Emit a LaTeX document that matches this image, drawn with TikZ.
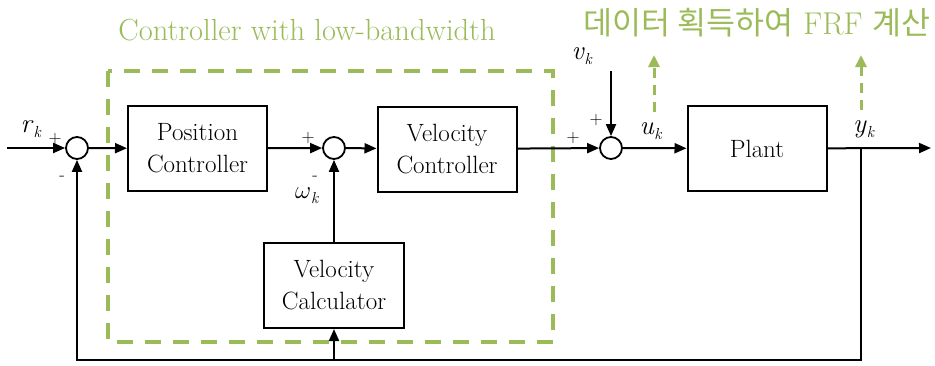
\documentclass[tikz,border=0pt]{standalone}
\usepackage{fontspec}
\newfontfamily\krfont{Noto Sans CJK KR}
\usetikzlibrary{arrows.meta}
\definecolor{grn}{HTML}{9BBB59}
\newcommand\lbl[2]{#1\raisebox{-0.45ex}{\fontsize{16}{16}\selectfont\textit{#2}}}
\begin{document}
\begin{tikzpicture}[x=1pt,y=-1pt,
  blk/.style={draw,line width=2pt,minimum width=139pt,minimum height=85pt,align=center,
    font=\fontsize{25}{32}\selectfont,inner sep=0pt},
  sumc/.style={draw,circle,line width=1.8pt,minimum size=22pt,inner sep=0pt},
  sig/.style={line width=2pt,-{Triangle[length=12pt,width=10pt]}},
  sgn/.style={font=\fontsize{18}{18}\selectfont,inner sep=0pt},
  var/.style={font=\fontsize{27}{27}\selectfont,inner sep=0pt},
  gtext/.style={text=grn,inner sep=0pt},
  garrow/.style={grn,line width=3pt,dash pattern=on 10pt off 7pt,-{Triangle[length=12pt,width=11pt]}}]
\useasboundingbox (0,0) rectangle (935,365);
% dashed group box
\draw[grn,line width=4pt,dash pattern=on 16pt off 12pt] (108,71) rectangle (553,342);
% blocks
\node[sumc] (s1) at (77,148) {};
\node[blk] (pc) at (197.5,148.5) {Position\\Controller};
\node[sumc] (s2) at (334,148) {};
\node[blk] (vc) at (447,149) {Velocity\\Controller};
\node[sumc] (s3) at (611,148) {};
\node[blk] (plant) at (757,148.5) {Plant};
\node[blk,minimum width=140pt] (calc) at (334,285.5) {Velocity\\Calculator};
% coordinates
\coordinate (in) at (7,148);
\coordinate (out) at (931,148);
\coordinate (br) at (861,148);
\coordinate (fbr) at (861,360);
\coordinate (fbl) at (77,360);
\coordinate (fbm) at (334,360);
\coordinate (vin) at (611,71);
% connectors
\draw[sig] (in) -- (s1);
\draw[sig] (s1) -- (pc);
\draw[sig] (pc) -- (s2);
\draw[sig] (s2) -- (vc);
\draw[sig] (vc) -- (s3);
\draw[sig] (s3) -- (plant);
\draw[sig] (plant) -- (out);
\draw[sig] (br) -- (fbr) -- (fbl) -- (s1);
\draw[sig] (fbm) -- (calc);
\draw[sig] (calc) -- (s2);
\draw[sig] (vin) -- (s3);
% green FRF arrows
\coordinate (ga1) at (654,112);
\coordinate (gt1) at (654,55);
\coordinate (ga2) at (861,110);
\coordinate (gt2) at (861,55);
\draw[garrow] (ga1) -- (gt1);
\draw[garrow] (ga2) -- (gt2);
% signal labels
\node[var] (rk) at (31,129) {\lbl{\textit{r}}{k}};
\node[var] (wk) at (307,196) {\lbl{$\omega$}{k}};
\node[var] (vk) at (582,56) {\lbl{\textit{v}}{k}};
\node[var] (uk) at (651,131) {\lbl{\textit{u}}{k}};
\node[var] (yk) at (864,129) {\lbl{\textit{y}}{k}};
% signs
\node[sgn] (p1) at (55,139) {+};
\node[sgn] (m1) at (62,178) {-};
\node[sgn] (p2) at (308,138) {+};
\node[sgn] (m2) at (315,178) {-};
\node[sgn] (p3) at (573,138) {+};
\node[sgn] (p4) at (596,120) {+};
% green titles
\node[gtext,font=\fontsize{30.5}{30.5}\selectfont] (t1) at (307,30) {Controller with low-bandwidth};
\node[gtext,font=\fontsize{31.5}{31.5}\selectfont] (t2) at (757,23) {{\krfont 데이터 획득하여} FRF {\krfont 계산}};
\end{tikzpicture}
\end{document}
